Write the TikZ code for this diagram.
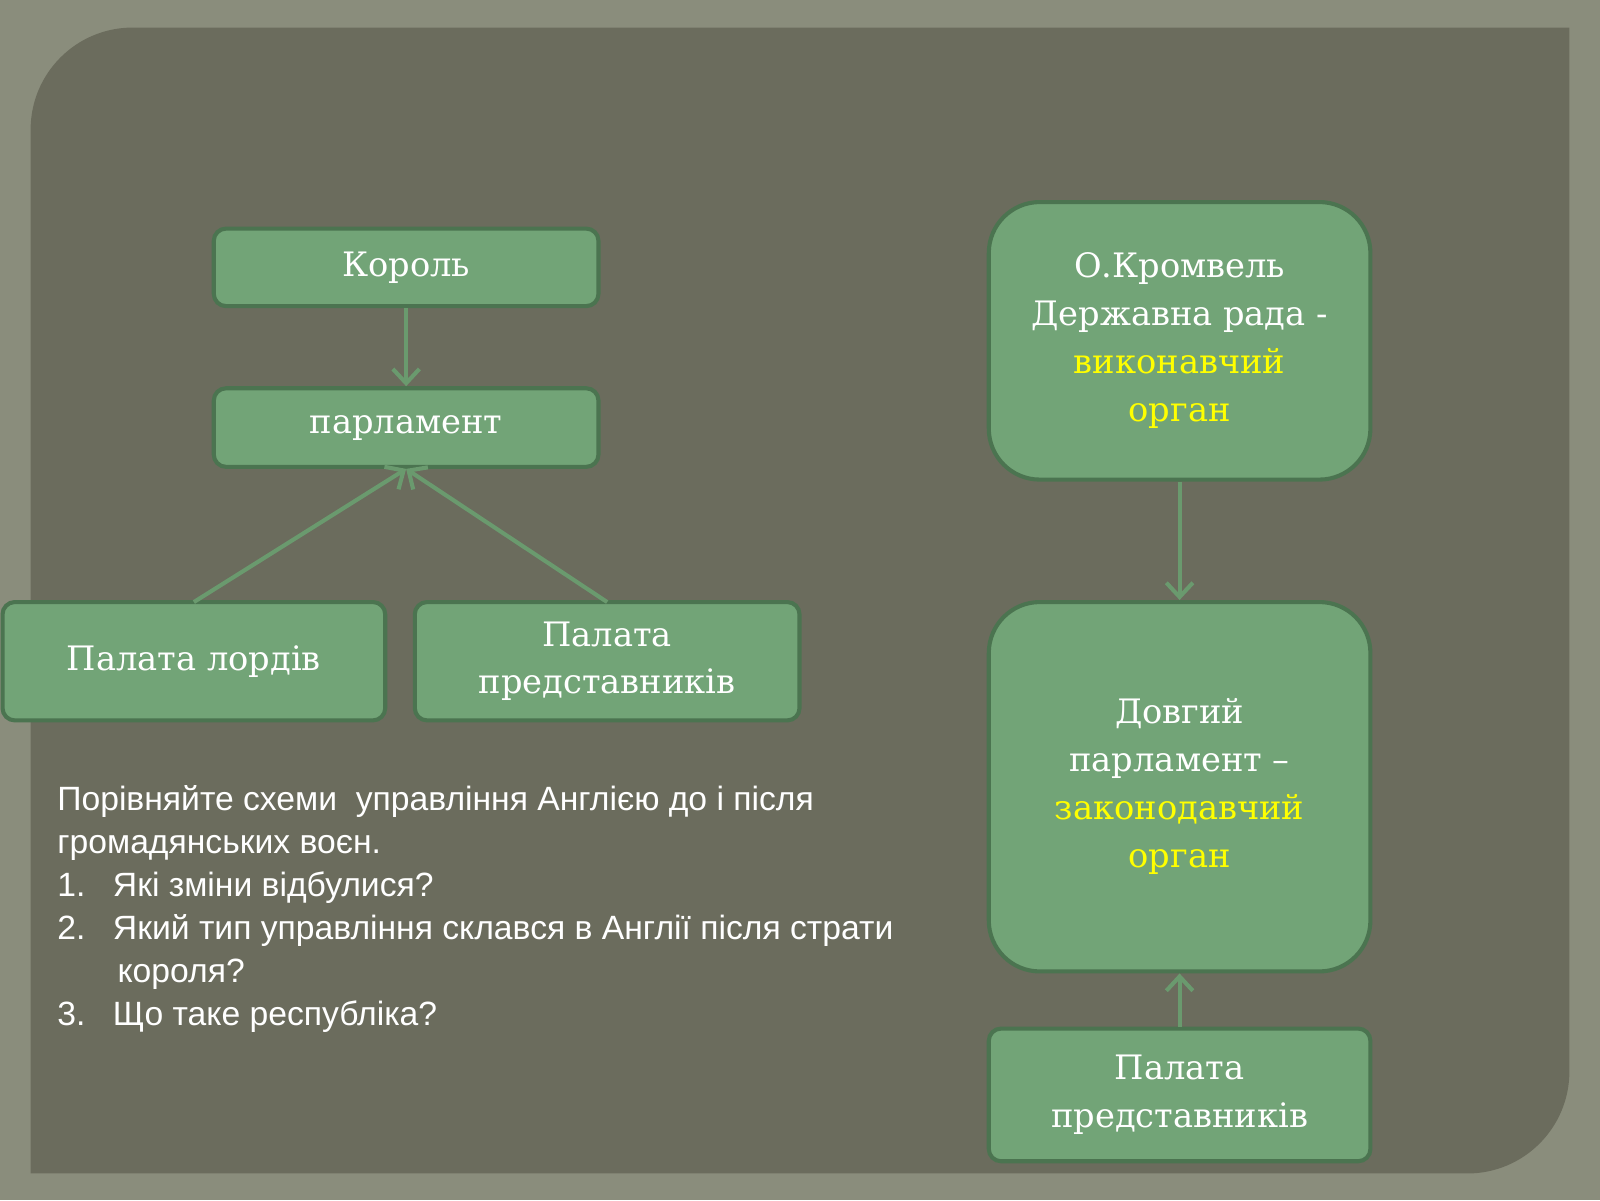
\documentclass[tikz,border=0pt]{standalone}
\usepackage{fontspec}
\setmainfont{DejaVu Serif}
\newfontfamily\qfont{Liberation Sans}
\usetikzlibrary{arrows.meta}
\definecolor{outerbg}{HTML}{8A8D7C}
\definecolor{panel}{HTML}{6B6C5D}
\definecolor{boxfill}{HTML}{72A477}
\definecolor{boxline}{HTML}{4B7450}
\definecolor{arr}{HTML}{6A9A6E}
\definecolor{yel}{HTML}{FFFF00}
\tikzset{x=1pt,y=-1pt,
 gbox/.style={draw=boxline,line width=4pt,fill=boxfill,rounded corners=12pt,text=white,align=center,font=\fontsize{33}{47}\selectfont,inner sep=0pt},
 bigbox/.style={gbox,rounded corners=50pt},
 conn/.style={draw=arr,line width=4pt,-{Straight Barb[length=14pt,width=26pt,line width=4pt]}}}
\begin{document}
\begin{tikzpicture}
\useasboundingbox (0,0) rectangle (1568,1176);
\fill[outerbg] (0,0) rectangle (1568,1176);
\fill[panel] (1538,600) -- (1538,27) -- (600,27) [rounded corners=100pt] -- (30,27) -- (30,600) [sharp corners] -- (30,1150) -- (900,1150) [rounded corners=100pt] -- (1538,1150) -- (1538,600) [sharp corners] -- cycle;
\node[gbox,minimum width=377pt,minimum height=76pt] (k) at (398,262) {\raisebox{-3pt}{Король}};
\node[gbox,minimum width=377pt,minimum height=77pt] (p) at (398,419) {\raisebox{-3pt}{парламент}};
\node[gbox,minimum width=375pt,minimum height=116pt] (l) at (190,648) {\raisebox{-3pt}{Палата лордів}};
\node[gbox,minimum width=377pt,minimum height=116pt] (r) at (595,648) {Палата\\представників};
\node[bigbox,minimum width=374pt,minimum height=272pt] (c) at (1156,334) {О.Кромвель\\Державна рада -\\\textcolor{yel}{виконавчий}\\\textcolor{yel}{орган}};
\node[bigbox,minimum width=374pt,minimum height=362pt] (d) at (1156,771) {Довгий\\парламент –\\\textcolor{yel}{законодавчий}\\\textcolor{yel}{орган}};
\node[gbox,minimum width=374pt,minimum height=130pt] (r2) at (1156,1073) {Палата\\представників};
\draw[conn] (k.south) -- (p.north);
\draw[conn] (190,590) -- (p.south);
\draw[conn] (595,590) -- (p.south);
\draw[conn] (c.south) -- (d.north);
\draw[conn] (r2.north) -- (d.south);
\node[anchor=north west,text=white,font=\qfont\fontsize{33}{42}\selectfont,align=left,inner sep=0pt] (q) at (56,770) {Порівняйте схеми\ \ управління Англією до і після\\громадянських воєн.\\1.\hspace{27pt}Які зміни відбулися?\\2.\hspace{27pt}Який тип управління склався в Англії після страти\\\hspace{59pt}короля?\\3.\hspace{27pt}Що таке республіка?};
\end{tikzpicture}
\end{document}
